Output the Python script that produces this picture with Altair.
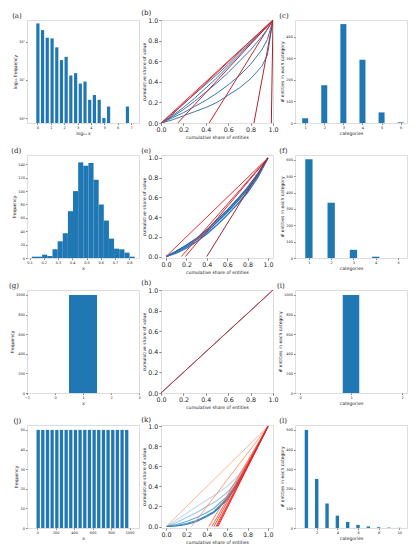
import altair as alt
import pandas as pd

BAR = "#1f77b4"
W = 112
H = 103

# ---------------- data ----------------
# (a) log-binned histogram
a_log10x = [0.04, 0.39, 0.74, 1.10, 1.45, 1.80, 2.15, 2.50, 2.86, 3.21, 3.56, 3.91, 4.26, 4.62, 4.97, 5.32, 6.73]
a_freq = [301, 201, 127, 122, 71, 33, 40, 13, 15, 8, 9, 3, 4, 3, 1, 2, 2]

# (b) Lorenz curves
b_x = [0, 0.1, 0.2, 0.3, 0.4, 0.5, 0.6, 0.7, 0.8, 0.9, 0.95, 1.0]
b_blue = [
    [0, 0.03, 0.07, 0.11, 0.15, 0.20, 0.27, 0.34, 0.43, 0.55, 0.66, 1.0],
    [0, 0.05, 0.10, 0.16, 0.22, 0.29, 0.37, 0.46, 0.57, 0.71, 0.81, 1.0],
    [0, 0.06, 0.13, 0.21, 0.30, 0.39, 0.49, 0.60, 0.71, 0.84, 0.91, 1.0],
    [0, 0.07, 0.15, 0.24, 0.34, 0.44, 0.55, 0.66, 0.77, 0.88, 0.94, 1.0],
    [0, 0.09, 0.185, 0.28, 0.375, 0.47, 0.57, 0.68, 0.78, 0.89, 0.945, 1.0],
]
b_red_start = [0.0, 0.02, 0.15, 0.43, 0.83, 0.985]

# (c) categories
c_cat = [1, 2, 3, 4, 5, 6]
c_count = [22, 175, 458, 293, 49, 3]

# (d) histogram
d_edges = [0.116, 0.152, 0.188, 0.224, 0.261, 0.297, 0.333, 0.369, 0.405, 0.441, 0.477,
           0.513, 0.549, 0.585, 0.621, 0.657, 0.693, 0.729, 0.766, 0.802, 0.838]
d_freq = [2, 2, 5, 3, 13, 25, 37, 70, 100, 143, 138, 142, 117, 80, 56, 29, 14, 13, 8, 2]

# (e) Lorenz curves
e_x = [0, 0.1, 0.2, 0.3, 0.4, 0.5, 0.6, 0.7, 0.8, 0.9, 1.0]
e_blue = [
    [0, 0.045, 0.10, 0.17, 0.25, 0.35, 0.45, 0.56, 0.68, 0.82, 1.0],
    [0, 0.035, 0.085, 0.15, 0.23, 0.32, 0.42, 0.53, 0.65, 0.80, 1.0],
    [0, 0.055, 0.115, 0.185, 0.27, 0.37, 0.47, 0.58, 0.70, 0.84, 1.0],
]
e_red_start = [0.0, 0.15, 0.19, 0.40]

# (f) categories
f_cat = [1, 2, 3, 4, 5]
f_count = [604, 338, 50, 8, 0]

# (g) single bin
g_x0 = [0.5]
g_x1 = [1.5]
g_freq = [1000]

# (h) perfect equality
h_x = [0.0, 1.0]
h_y = [0.0, 1.0]

# (i) single category
i_cat = [1]
i_count = [1000]

# (j) uniform histogram
j_x = [10, 60, 111, 161, 212, 262, 313, 363, 414, 464, 515, 565, 616, 666, 717, 767, 818, 868, 919, 969]
j_freq = [50, 50, 50, 50, 50, 50, 50, 50, 50, 50, 50, 50, 50, 50, 50, 50, 50, 50, 50, 50]

# (k) Lorenz curves
k_x = [0, 0.1, 0.2, 0.3, 0.4, 0.47, 0.5, 0.6, 0.7, 0.8, 0.9, 1.0]
k_blue = [
    [0, 0.065, 0.13, 0.20, 0.265, 0.31, 0.33, 0.40, 0.50, 0.63, 0.80, 1.0],
    [0, 0.04, 0.09, 0.14, 0.20, 0.24, 0.26, 0.34, 0.46, 0.61, 0.79, 1.0],
    [0, 0.02, 0.05, 0.09, 0.14, 0.18, 0.21, 0.30, 0.44, 0.61, 0.80, 1.0],
    [0, 0.01, 0.03, 0.06, 0.11, 0.15, 0.18, 0.28, 0.43, 0.61, 0.80, 1.0],
    [0, 0.005, 0.02, 0.05, 0.10, 0.14, 0.17, 0.27, 0.42, 0.60, 0.80, 1.0],
]
k_blue_colors = ["#c6dbef", "#9ecae1", "#6baed6", "#4292c6", "#2b7bba"]
k_red_start = [0.0, 0.25, 0.42, 0.45, 0.47, 0.49, 0.50, 0.51]
k_red_colors = ["#fcae91", "#fc9272", "#fb6a4a", "#f6553c", "#ef3b2c", "#e8302a", "#f0261c", "#fb1a1a"]

# (l) categories
l_cat = [1, 2, 3, 4, 5, 6, 7, 8, 9, 10]
l_count = [500, 250, 125, 63, 31, 16, 8, 4, 2, 1]


# ---------------- helpers ----------------
def ax(title, values, fmt=None, big=False, label_expr=None, title_pad=1.5):
    kw = dict(
        title=title, values=values,
        labelFontSize=6.3 if big else 3.5,
        titleFontSize=4.5,
        tickSize=2.2 if big else 1.5,
        tickWidth=0.6,
        tickColor="#333333",
        labelPadding=1,
        titlePadding=title_pad,
        labelFlush=False,
        labelOverlap=False,
        grid=False,
        domain=False,
        labelColor="#222222",
        titleColor="#222222",
        titleFontWeight="normal",
        labelFont="DejaVu Sans",
        titleFont="DejaVu Sans",
    )
    if fmt is not None:
        kw["format"] = fmt
    if label_expr is not None:
        kw["labelExpr"] = label_expr
    return alt.Axis(**kw)


def ttl(t):
    return alt.TitleParams(text=t, anchor="start", frame="bounds", font="DejaVu Serif",
                           fontSize=7, fontWeight="normal", offset=1, color="#222222")


def props(ch, t):
    return ch.properties(width=W, height=H, title=ttl(t))


def lorenz(t, xs, blues, blue_colors, red_starts, red_colors, xdom, ydom, bw, rw):
    rows = []
    ids_b = []
    for n, ys in enumerate(blues):
        cid = f"b{n}"
        ids_b.append(cid)
        for x, y in zip(xs, ys):
            rows.append({"id": cid, "x": x, "y": y})
    bdf = pd.DataFrame(rows)
    rrows = []
    ids_r = []
    for n, s in enumerate(red_starts):
        cid = f"r{n}"
        ids_r.append(cid)
        rrows.append({"id": cid, "x": s, "y": 0.0})
        rrows.append({"id": cid, "x": 1.0, "y": 1.0})
    rdf = pd.DataFrame(rrows)
    xe = alt.X("x:Q", scale=alt.Scale(domain=xdom, nice=False, zero=False),
               axis=ax("cumulative share of entities", [0, 0.2, 0.4, 0.6, 0.8, 1.0], ".1f", big=True))
    ye = alt.Y("y:Q", scale=alt.Scale(domain=ydom, nice=False, zero=False),
               axis=ax("cumulative share of value", [0, 0.2, 0.4, 0.6, 0.8, 1.0], ".1f", big=True))
    bl = alt.Chart(bdf).mark_line(strokeWidth=bw, clip=True).encode(
        x=xe, y=ye,
        color=alt.Color("id:N", scale=alt.Scale(domain=ids_b, range=blue_colors), legend=None),
    )
    rl = alt.Chart(rdf).mark_line(strokeWidth=rw, clip=True).encode(
        x=xe, y=ye,
        color=alt.Color("id:N", scale=alt.Scale(domain=ids_r, range=red_colors), legend=None),
    )
    return alt.layer(bl, rl).resolve_scale(color="independent").properties(width=W, height=H, title=ttl(t))


# ---------------- panels ----------------
pa = props(alt.Chart(pd.DataFrame({"x": a_log10x, "f": a_freq})).mark_bar(size=3.2, color=BAR).encode(
    x=alt.X("x:Q", scale=alt.Scale(domain=[-0.4, 7.22], nice=False, zero=False),
            axis=ax("log\u2081\u2080 x", [0, 1, 2, 3, 4, 5, 6, 7], "d")),
    y=alt.Y("f:Q", scale=alt.Scale(type="log", domain=[0.74, 370], nice=False),
            axis=ax("log\u2081\u2080 frequency", [1, 10, 100],
                    label_expr="datum.value == 1 ? '10\u2070' : datum.value == 10 ? '10\u00b9' : '10\u00b2'")),
    y2=alt.datum(0.74),
), "(a)")

pb = lorenz("(b)", b_x, b_blue, ["#3a76b2"] * len(b_blue), b_red_start,
            ["#ea2e2a", "#e3282a", "#d4262b", "#c9262d", "#b72530", "#a3202c"],
            [0, 1], [0, 1], 1.0, 1.0)

pc = props(alt.Chart(pd.DataFrame({"c": c_cat, "n": c_count})).mark_bar(size=6, color=BAR).encode(
    x=alt.X("c:Q", scale=alt.Scale(domain=[0.73, 6.07], nice=False, zero=False),
            axis=ax("categories", [1, 2, 3, 4, 5, 6], "d")),
    y=alt.Y("n:Q", scale=alt.Scale(domain=[0, 477], nice=False),
            axis=ax("# entities in each category", [0, 100, 200, 300, 400], "d")),
), "(c)")

pd_ = props(alt.Chart(pd.DataFrame({"x0": d_edges[:-1], "x1": d_edges[1:], "f": d_freq})).mark_rect(color=BAR).encode(
    x=alt.X("x0:Q", scale=alt.Scale(domain=[0.082, 0.868], nice=False, zero=False),
            axis=ax("x", [0.1, 0.2, 0.3, 0.4, 0.5, 0.6, 0.7, 0.8], ".1f")),
    x2="x1:Q",
    y=alt.Y("f:Q", scale=alt.Scale(domain=[0, 154], nice=False),
            axis=ax("frequency", [0, 20, 40, 60, 80, 100, 120, 140], "d")),
    y2=alt.datum(0),
), "(d)")

pe = lorenz("(e)", e_x, e_blue, ["#2c6fb3", "#3479b8", "#2a69ad"], e_red_start,
            ["#ee3030", "#e33131", "#d42b2e", "#a8232e"],
            [-0.05, 1.05], [-0.015, 1.03], 1.4, 1.0)

pf = props(alt.Chart(pd.DataFrame({"c": f_cat, "n": f_count})).mark_bar(size=7.3, color=BAR).encode(
    x=alt.X("c:Q", scale=alt.Scale(domain=[0.6, 5.18], nice=False, zero=False),
            axis=ax("categories", [1, 2, 3, 4, 5], "d")),
    y=alt.Y("n:Q", scale=alt.Scale(domain=[0, 630], nice=False),
            axis=ax("# entities in each category", [0, 100, 200, 300, 400, 500, 600], "d")),
), "(f)")

pg = props(alt.Chart(pd.DataFrame({"x0": g_x0, "x1": g_x1, "f": g_freq})).mark_rect(color=BAR).encode(
    x=alt.X("x0:Q", scale=alt.Scale(domain=[-1, 3], nice=False, zero=False),
            axis=ax("x", [-1, 0, 1, 2, 3], "d")),
    x2="x1:Q",
    y=alt.Y("f:Q", scale=alt.Scale(domain=[0, 1050], nice=False),
            axis=ax("frequency", [0, 200, 400, 600, 800, 1000], "d")),
    y2=alt.datum(0),
), "(g)")

ph = lorenz("(h)", h_x, [h_y], ["#3a76b2"], [0.0], ["#cc3333"], [0, 1], [0, 1], 1.0, 1.0)

pi = props(alt.Chart(pd.DataFrame({"c": i_cat, "n": i_count})).mark_bar(size=16.5, color=BAR).encode(
    x=alt.X("c:Q", scale=alt.Scale(domain=[0, 2], nice=False, zero=False),
            axis=ax("categories", [0, 1, 2], "d")),
    y=alt.Y("n:Q", scale=alt.Scale(domain=[0, 1050], nice=False),
            axis=ax("# entities in each category", [0, 200, 400, 600, 800, 1000], "d")),
), "(i)")

pj = props(alt.Chart(pd.DataFrame({"x": j_x, "f": j_freq})).mark_bar(size=3.3, color=BAR).encode(
    x=alt.X("x:Q", scale=alt.Scale(domain=[-57, 1048], nice=False, zero=False),
            axis=ax("x", [0, 200, 400, 600, 800, 1000], "d")),
    y=alt.Y("f:Q", scale=alt.Scale(domain=[0, 52.5], nice=False),
            axis=ax("frequency", [0, 10, 20, 30, 40, 50], "d")),
), "(j)")

pk = lorenz("(k)", k_x, k_blue, k_blue_colors, k_red_start, k_red_colors,
            [-0.05, 1.05], [-0.015, 1.015], 1.2, 0.9)

pl = props(alt.Chart(pd.DataFrame({"c": l_cat, "n": l_count})).mark_bar(size=3.4, color=BAR).encode(
    x=alt.X("c:Q", scale=alt.Scale(domain=[0.38, 10.26], nice=False, zero=False),
            axis=ax("categories", [2, 4, 6, 8, 10], "d")),
    y=alt.Y("n:Q", scale=alt.Scale(domain=[0, 525], nice=False),
            axis=ax("# entities in each category", [0, 100, 200, 300, 400, 500], "d")),
), "(l)")

chart = alt.concat(pa, pb, pc, pd_, pe, pf, pg, ph, pi, pj, pk, pl, columns=3, bounds="flush",
                   spacing={"row": 32, "column": 22}).properties(
    padding={"left": 0, "top": 0, "right": 0, "bottom": 0}
).configure_view(stroke="#a8a8a8", strokeWidth=0.8).configure(background="white")

chart.save("out.html", embed_options={"renderer": "svg", "actions": False})
